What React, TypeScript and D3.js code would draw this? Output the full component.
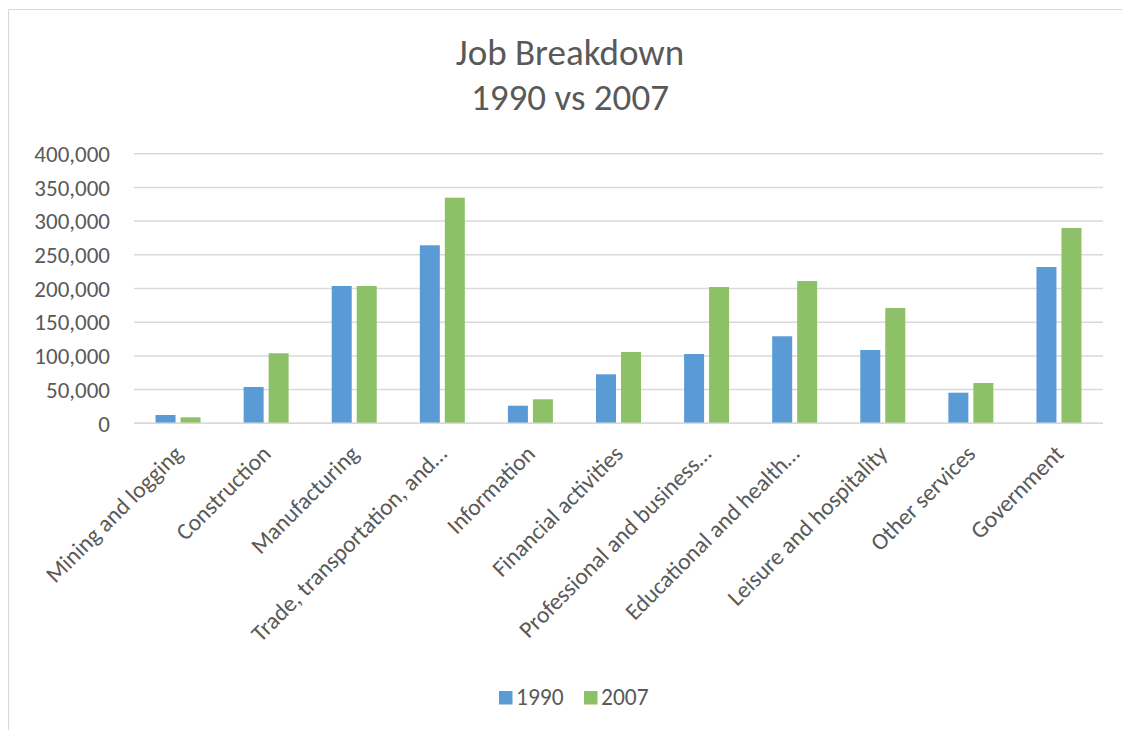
import React from "react";
import * as d3 from "d3";

const categories = [
  "Mining and logging",
  "Construction",
  "Manufacturing",
  "Trade, transportation, and…",
  "Information",
  "Financial activities",
  "Professional and business…",
  "Educational and health…",
  "Leisure and hospitality",
  "Other services",
  "Government",
];
const seriesNames = ["1990", "2007"];
const values1990 = [12300, 53900, 203700, 264100, 26100, 72700, 102800, 129100, 108800, 45400, 231900];
const values2007 = [8900, 103900, 203700, 334700, 35600, 105800, 202200, 211100, 171100, 59800, 289800];
const yTicks = [0, 50000, 100000, 150000, 200000, 250000, 300000, 350000, 400000];
const colors = ["#5B9BD5", "#8DC168"];
const titleLines = ["Job Breakdown", "1990 vs 2007"];

const FONT = "Carlito, Calibri, Lato, 'Open Sans', sans-serif";
const TEXT = "#595959";

export default function App() {
  const left = 134, right = 1103, top = 153.7, bottom = 423.3;
  const x0 = d3.scaleBand<string>().domain(categories).range([left, right]).paddingInner(0).paddingOuter(0);
  const bw = x0.bandwidth();
  const x1 = d3.scaleBand<string>().domain(seriesNames).range([bw / 2 - 22.5, bw / 2 + 22.5]).paddingInner(0.2).paddingOuter(0);
  const y = d3.scaleLinear().domain([0, 400000]).range([bottom, top]);
  const fmt = d3.format(",");
  const data = [values1990, values2007];

  return (
    <svg width={1122} height={722} style={{ display: "block" }}>
      <g transform="translate(-8,-8)">
        <rect x={0} y={0} width={1130} height={730} fill="#fff" />
        <line x1={8.5} y1={9.5} x2={1130} y2={9.5} stroke="#D9D9D9" strokeWidth={1.2} />
        <line x1={8.5} y1={9.5} x2={8.5} y2={730} stroke="#D9D9D9" strokeWidth={1.2} />
        {titleLines.map((t, i) => (
          <text key={t} x={570} y={65 + i * 45} textAnchor="middle" fontFamily={FONT} fontWeight={300} fontSize={37} fill={TEXT}>
            {t}
          </text>
        ))}
        {yTicks.map((t) => (
          <g key={t}>
            <line x1={left} x2={right} y1={y(t)} y2={y(t)} stroke="#D9D9D9" strokeWidth={1.5} />
            <text x={110} y={y(t)} dy="0.36em" textAnchor="end" fontFamily={FONT} fontSize={23} fill={TEXT}>
              {fmt(t)}
            </text>
          </g>
        ))}
        {categories.map((c, ci) => (
          <g key={c} transform={`translate(${x0(c)},0)`}>
            {seriesNames.map((s, si) => (
              <rect
                key={s}
                x={x1(s)}
                y={y(data[si][ci])}
                width={x1.bandwidth()}
                height={y(0) - y(data[si][ci])}
                fill={colors[si]}
              />
            ))}
          </g>
        ))}
        <line x1={left} x2={right} y1={y(0)} y2={y(0)} stroke="#D9D9D9" strokeWidth={1.5} />
        {categories.map((c) => {
          const cx = (x0(c) as number) + bw / 2 + 6;
          const cy = bottom + 32;
          return (
            <text
              key={c}
              x={cx}
              y={cy}
              transform={`rotate(-45,${cx},${cy})`}
              textAnchor="end"
              fontFamily={FONT}
              fontSize={23.5}
              fill={TEXT}
            >
              {c}
            </text>
          );
        })}
        {seriesNames.map((s, i) => {
          const lx = i === 0 ? 499 : 584;
          return (
            <g key={s}>
              <rect x={lx} y={691} width={13.5} height={13.5} fill={colors[i]} />
              <text x={lx + 17} y={704.5} fontFamily={FONT} fontSize={23.5} fill={TEXT}>
                {s}
              </text>
            </g>
          );
        })}
      </g>
    </svg>
  );
}
